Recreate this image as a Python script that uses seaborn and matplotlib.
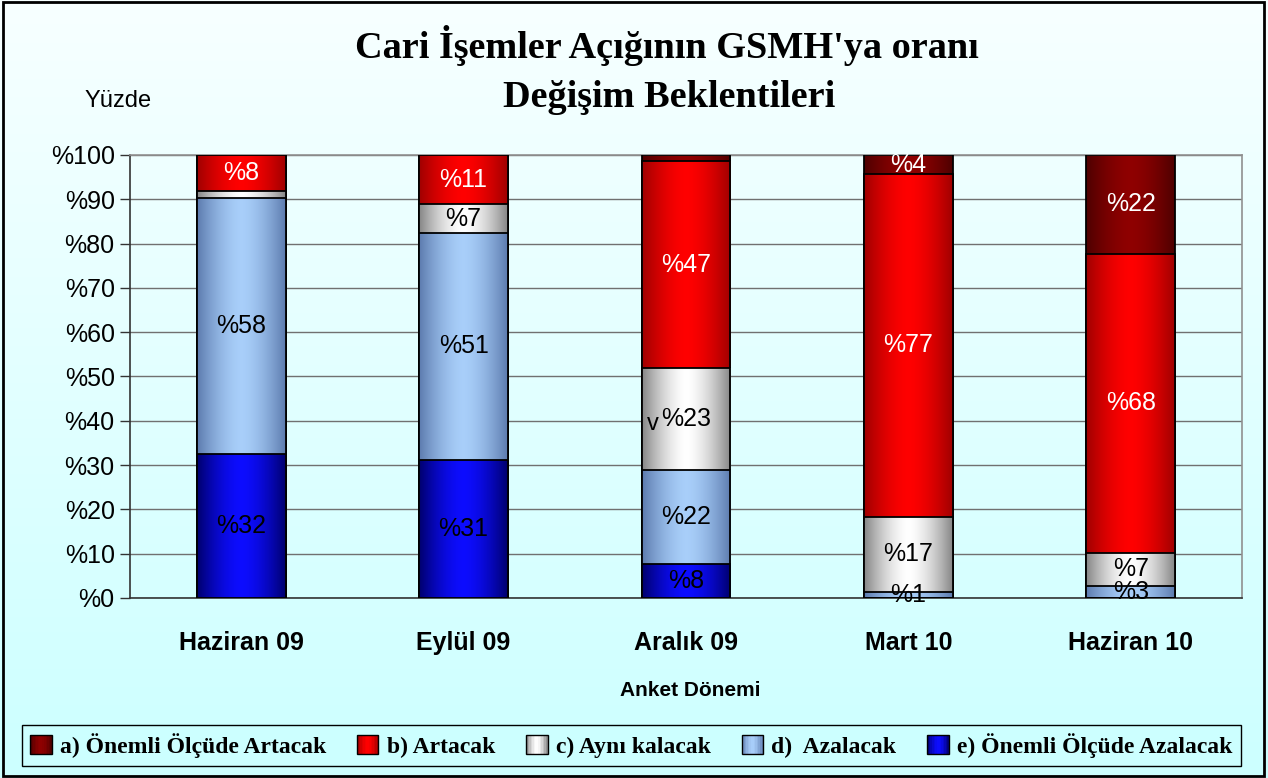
import numpy as np
import pandas as pd
import matplotlib
matplotlib.use('Agg')
import matplotlib.pyplot as plt
import seaborn as sns
from matplotlib.patches import Patch, Rectangle
from matplotlib.legend_handler import HandlerBase

# Data (percent)
donem = ['Haziran 09', 'Eylül 09', 'Aralık 09', 'Mart 10', 'Haziran 10']
seriler = ['a) Önemli Ölçüde Artacak', 'b) Artacak', 'c) Aynı kalacak',
           'd)  Azalacak', 'e) Önemli Ölçüde Azalacak']
a_onemli_artacak = [0.0, 0.0, 1.4, 4.3, 22.3]
b_artacak = [8.1, 11.1, 46.7, 77.4, 67.5]
c_ayni = [1.6, 6.5, 23.0, 16.9, 7.5]
d_azalacak = [57.8, 51.2, 21.2, 1.4, 2.7]
e_onemli_azalacak = [32.5, 31.2, 7.7, 0.0, 0.0]

a_etiket = ['', '', '', '%4', '%22']
b_etiket = ['%8', '%11', '%47', '%77', '%68']
c_etiket = ['', '%7', '%23', '%17', '%7']
d_etiket = ['%58', '%51', '%22', '%1', '%3']
e_etiket = ['%32', '%31', '%8', '', '']

y_ticks = list(range(0, 101, 10))
y_tick_labels = ['%' + str(t) for t in y_ticks]

# gradient colours: (edge, centre)
renkler = [((0.30, 0.0, 0.0), (0.56, 0.0, 0.0)),
           ((0.62, 0.0, 0.0), (1.0, 0.0, 0.0)),
           ((0.52, 0.52, 0.52), (1.0, 1.0, 1.0)),
           ((0.36, 0.48, 0.68), (0.66, 0.81, 0.98)),
           ((0.0, 0.0, 0.42), (0.05, 0.05, 1.0))]
yazi_renk = ['white', 'white', 'black', 'black', 'black']


def shade(edge, mid, t):
    w = 1 - abs(2 * t - 1) ** 1.6
    return tuple(e + (m - e) * w for e, m in zip(edge, mid))


def grad_row(edge, mid, n=64):
    ts = (np.arange(n) + 0.5) / n
    return np.array([[shade(edge, mid, t) for t in ts]])


class GradHandler(HandlerBase):
    def __init__(self, edge, mid):
        super().__init__()
        self.edge = edge
        self.mid = mid

    def create_artists(self, legend, orig, xd, yd, w, h, fs, trans):
        arts = []
        n = 14
        for k in range(n):
            arts.append(Rectangle((-xd + w * k / n, -yd), w / n + 0.3, h,
                                  fc=shade(self.edge, self.mid, (k + 0.5) / n),
                                  ec='none', transform=trans))
        arts.append(Rectangle((-xd, -yd), w, h, fc='none', ec='black', lw=1, transform=trans))
        return arts


sns.set_style('white')
plt.rcParams['font.family'] = ['Liberation Sans', 'DejaVu Sans']
plt.rcParams['text.color'] = 'black'
plt.rcParams['xtick.color'] = 'black'
plt.rcParams['ytick.color'] = 'black'
plt.rcParams['axes.labelcolor'] = 'black'

fig = plt.figure(figsize=(12.68, 7.78), dpi=100)

# background gradient
bg = fig.add_axes([0, 0, 1, 1], zorder=-10)
top_c = np.array([0.97, 1.0, 1.0])
bot_c = np.array([0.80, 1.0, 1.0])
tt = np.linspace(0, 1, 256)[:, None]
bg.imshow((top_c + (bot_c - top_c) * tt)[:, None, :], aspect='auto', extent=[0, 1, 0, 1])
bg.set_axis_off()

ax = fig.add_axes([0.1025, 0.2314, 0.877, 0.5694])
ax.set_facecolor('none')

katmanlar = [a_onemli_artacak, b_artacak, c_ayni, d_azalacak, e_onemli_azalacak]
etiketler = [a_etiket, b_etiket, c_etiket, d_etiket, e_etiket]

# stacked bars: draw cumulative tops from the top layer downwards
vals = np.array(katmanlar)
tops = vals[::-1].cumsum(axis=0)[::-1]  # tops[i] = sum of layers i..e
for i in range(5):
    df = pd.DataFrame({'donem': donem, 'top': tops[i]})
    n_before = len(ax.patches)
    sns.barplot(data=df, x='donem', y='top', order=donem, width=0.4,
                color=renkler[i][1], ax=ax)
    for p in ax.patches[n_before:]:
        x0, y0 = p.get_x(), p.get_y()
        w, h = p.get_width(), p.get_height()
        p.set_facecolor('none')
        p.set_edgecolor('black')
        p.set_linewidth(1.3)
        p.set_zorder(3 + 2 * i)
        if h > 0:
            im = ax.imshow(grad_row(*renkler[i]), extent=[x0, x0 + w, y0, y0 + h],
                           aspect='auto', zorder=2 + 2 * i, interpolation='bilinear')
            im.set_clip_path(p)

# segment labels
for i in range(5):
    bottoms = tops[i] - vals[i]
    for j in range(5):
        if etiketler[i][j]:
            ax.text(j, bottoms[j] + vals[i][j] / 2, etiketler[i][j], ha='center',
                    va='center', fontsize=18, color=yazi_renk[i], zorder=20)
ax.text(2 - 0.15, 39.2, 'v', ha='center', va='center', fontsize=17, color='black', zorder=20)

ax.set_xlim(-0.5, 4.5)
ax.set_ylim(0, 100)
ax.set_yticks(y_ticks)
ax.set_yticklabels(y_tick_labels, fontsize=18)
ax.set_xticks(range(5))
ax.set_xticklabels(donem, fontsize=18, fontweight='bold')
ax.set_xticks(np.arange(-0.5, 5, 1), minor=True)
ax.tick_params(axis='x', which='major', length=0, pad=24)
ax.tick_params(axis='x', which='minor', length=7, width=1, color='#333333', direction='out')
ax.tick_params(axis='y', length=7, width=1, color='#333333', direction='out', left=True, pad=4)
ax.yaxis.grid(True, color='#707070', lw=1)
ax.xaxis.grid(False)
ax.set_axisbelow(True)
ax.set_xlabel('')
ax.set_ylabel('')
for s in ['left', 'bottom']:
    ax.spines[s].set_color('#333333')
    ax.spines[s].set_linewidth(1.2)
for s in ['top', 'right']:
    ax.spines[s].set_color('#909090')
    ax.spines[s].set_linewidth(1.2)

# texts
fig.text(0.526, 0.942, "Cari İşemler Açığının GSMH'ya oranı", ha='center', va='center',
         family=['Liberation Serif', 'DejaVu Serif'], fontweight='bold', fontsize=27.5)
fig.text(0.528, 0.875, 'Değişim Beklentileri', ha='center', va='center',
         family=['Liberation Serif', 'DejaVu Serif'], fontweight='bold', fontsize=27.5)
fig.text(0.093, 0.870, 'Yüzde', ha='center', va='center', fontsize=17)
fig.text(0.544, 0.113, 'Anket Dönemi', ha='center', va='center', fontsize=15, fontweight='bold')

# legend
handles = [Patch() for _ in seriler]
hmap = {h: GradHandler(*renkler[i]) for i, h in enumerate(handles)}
leg = fig.legend(handles, seriler, handler_map=hmap, loc='lower left',
                 bbox_to_anchor=(0.0174, 0.0154, 0.961, 0.053), mode='expand', ncol=5,
                 frameon=True, fancybox=False, edgecolor='black', facecolor='#ccffff',
                 framealpha=1, handlelength=0.9, handleheight=0.9, handletextpad=0.35,
                 columnspacing=0.6, borderpad=0.35, borderaxespad=0,
                 prop={'family': ['Liberation Serif', 'DejaVu Serif'], 'weight': 'bold', 'size': 17})
leg.get_frame().set_linewidth(1)

fig.add_artist(Rectangle((0.002, 0.003), 0.995, 0.994, transform=fig.transFigure,
                         fill=False, ec='black', lw=2))

fig.savefig('out.png', dpi=100)
